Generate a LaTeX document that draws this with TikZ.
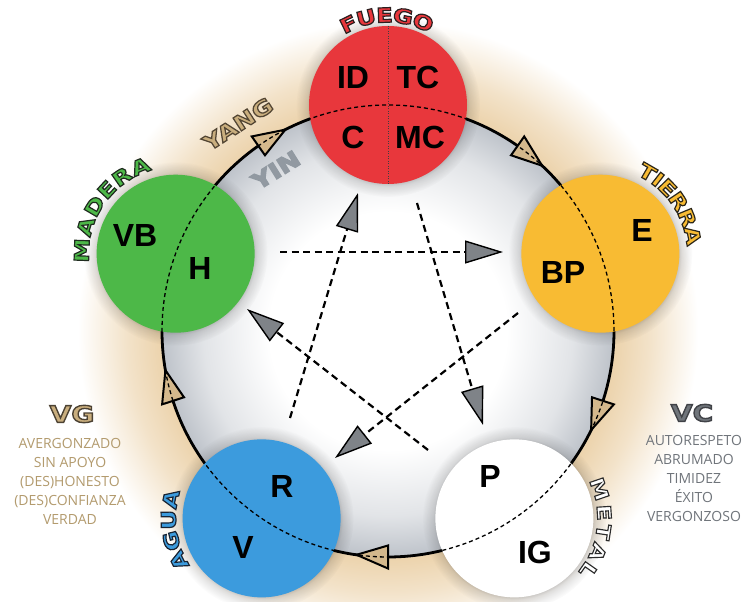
\documentclass[tikz,border=0pt]{standalone}
\usepackage{fontspec}
\setmainfont{Liberation Sans}
\newfontfamily\outfont{DejaVu Sans Bold}[FakeStretch=1.22, FakeBold=6]
\newfontfamily\listfont{Open Sans}
\usetikzlibrary{calc,arrows.meta,fadings}

\definecolor{firered}{HTML}{E8373C}
\definecolor{woodgreen}{HTML}{4DB848}
\definecolor{earthyellow}{HTML}{F8BB33}
\definecolor{waterblue}{HTML}{3C9BDD}
\definecolor{innergray}{HTML}{BEC3CA}
\definecolor{outertan}{HTML}{ECD3AC}
\definecolor{ringtan}{HTML}{D4B88C}
\definecolor{stargray}{HTML}{7F8388}
\definecolor{vgtan}{HTML}{B39B6E}
\definecolor{vggold}{HTML}{C9AE7E}
\definecolor{vcgray}{HTML}{70757B}
\definecolor{yingray}{HTML}{9299A1}

\pgfdeclareradialshading{ringglow}{\pgfpoint{0bp}{0bp}}{color(0bp)=(white); color(9bp)=(white); color(14bp)=(innergray!45!white); color(17.1bp)=(innergray); color(17.16bp)=(outertan); color(19.8bp)=(outertan!65!white); color(23.5bp)=(white); color(25bp)=(white); color(50bp)=(white)}
\pgfdeclareradialshading{haloshade}{\pgfpointorigin}{color(0bp)=(white); color(21bp)=(white); color(22bp)=(white!55!black); color(25bp)=(black); color(50bp)=(black)}
\pgfdeclarefading{halo}{\pgfuseshading{haloshade}}

% outlined text: fill colour #2, stroke (outline) rgb #1, via the fake-bold stroke
\newcommand\myolt[3]{\textcolor{#2}{\special{pdf:literal direct #1 RG}#3}}

\tikzset{
  elem/.style={circle, minimum size=158pt, inner sep=0pt},
  ltr/.style={font=\fontsize{32}{34}\selectfont\bfseries, text=black, inner sep=0pt},
  curvlbl/.style={inner sep=0pt, font=\outfont\fontsize{#1}{#1}\selectfont},
  starline/.style={line width=2.2pt, dash pattern=on 7pt off 4.5pt, -{Triangle[length=38pt,width=23pt,fill=stargray,line width=1.4pt]}},
  ringarrow/.style={fill=ringtan, draw=black, line width=2pt, line join=miter},
  listtxt/.style={font=\listfont\fontsize{14}{19}\selectfont, align=center, anchor=north, inner sep=0pt},
}

\begin{document}
\begin{tikzpicture}[x=1pt,y=1pt]
\useasboundingbox (0,0) rectangle (747,602);
\fill[white] (0,0) rectangle (747,602);
\coordinate (C) at (388,271);
\begin{scope}
  \clip (0,0) rectangle (747,602);
  \shade[shading=ringglow] (C) circle (330pt);
\end{scope}

% ring
\draw[line width=2.8pt] (C) circle (226pt);

% element positions
\coordinate (pfire) at ($(C)+(90:226pt)$);
\coordinate (pearth) at ($(C)+(20:226pt)$);
\coordinate (pmetal) at ($(C)+(-56:226pt)$);
\coordinate (pwater) at ($(C)+(236:226pt)$);
\coordinate (pwood) at ($(C)+(160:226pt)$);

% halos
\foreach \p in {pfire,pearth,pmetal,pwater,pwood}
  \fill[black, opacity=0.22, path fading=halo] (\p) circle (92pt);

% ring arrows
\foreach \m in {55,-18,-90,198,125}
  \filldraw[ringarrow] ($(C)+(\m:237.5pt)$) -- ($(C)+(\m-8:226pt)$) -- ($(C)+(\m:214.5pt)$) -- cycle;

% circles
\node[elem, fill=firered] (fire) at (pfire) {};
\node[elem, fill=earthyellow] (earth) at (pearth) {};
\node[elem, fill=white] (metal) at (pmetal) {};
\node[elem, fill=waterblue] (water) at (pwater) {};
\node[elem, fill=woodgreen] (wood) at (pwood) {};

% dashed ring inside circles
\draw[line width=1.3pt, dash pattern=on 4pt off 3pt] (C) circle (226pt);
\draw[line width=.8pt, dash pattern=on 1pt off 1.5pt, black!75] (fire.north) -- (fire.south);

% letters in circles
\node[ltr] (id) at ($(fire.center)+(-35,28)$) {ID};
\node[ltr] (tc) at ($(fire.center)+(30,28)$) {TC};
\node[ltr] (c) at ($(fire.center)+(-35,-32)$) {C};
\node[ltr] (mc) at ($(fire.center)+(32,-32)$) {MC};
\node[ltr] (vb) at ($(wood.center)+(-40.6,18.7)$) {VB};
\node[ltr] (h) at ($(wood.center)+(24.4,-14.3)$) {H};
\node[ltr] (e) at ($(earth.center)+(41.6,23.7)$) {E};
\node[ltr] (bp) at ($(earth.center)+(-37.4,-18.3)$) {BP};
\node[ltr] (r) at ($(water.center)+(20.4,31.4)$) {R};
\node[ltr] (v) at ($(water.center)+(-18.6,-29.6)$) {V};
\node[ltr] (p) at ($(metal.center)+(-24.4,41.4)$) {P};
\node[ltr] (ig) at ($(metal.center)+(20.6,-34.6)$) {IG};

% curved element names
\foreach \a/\l in {116/F,104.1/U,92.2/E,80.3/G,67/O}
  \node[curvlbl=20, rotate=\a-90] at ($(fire.center)+(\a:90pt)$) {\myolt{0.17 0.12 0.12}{firered}{\l}};
\foreach \a/\l in {178/M,163.2/A,149.7/D,137.1/E,124.9/R,112/A}
  \node[curvlbl=20, rotate=\a-90] at ($(wood.center)+(\a:94pt)$) {\myolt{0.12 0.17 0.12}{woodgreen}{\l}};
\foreach \a/\l in {60/T,52.2/I,44.5/E,33.8/R,22.4/R,11/A}
  \node[curvlbl=20, rotate=\a-90] at ($(earth.center)+(\a:94pt)$) {\myolt{0.17 0.15 0.1}{earthyellow}{\l}};
\foreach \a/\l in {207/A,194.1/G,180.9/U,168/A}
  \node[curvlbl=20, rotate=\a-90] at ($(water.center)+(\a:93pt)$) {\myolt{0.1 0.14 0.2}{waterblue}{\l}};
\foreach \a/\l in {19/M,3.7/E,-8.8/T,-22.1/A,-35/L}
  \node[curvlbl=19, rotate=\a-90] at ($(metal.center)+(\a:90pt)$) {\myolt{0.17 0.17 0.17}{white}{\l}};

% yin yang
\node[curvlbl=21, rotate=33] (yang) at (238,478) {\myolt{0.32 0.27 0.2}{vggold}{YANG}};
\node[curvlbl=22, rotate=32] (yin) at (276,432) {\myolt{0.57 0.6 0.63}{yingray}{YIN}};

% star (control cycle)
\coordinate (s1) at (280,350); \coordinate (t1) at (503,350);
\coordinate (s2) at (417,399); \coordinate (t2) at (483,177);
\coordinate (s3) at (518,289); \coordinate (t3) at (335,144);
\coordinate (s4) at (428,152); \coordinate (t4) at (247,293);
\coordinate (s5) at (290,184); \coordinate (t5) at (358,409);
\draw[starline] (s1) -- (t1);
\draw[starline] (s2) -- (t2);
\draw[starline] (s3) -- (t3);
\draw[starline] (s4) -- (t4);
\draw[starline] (s5) -- (t5);

% side texts
\node[curvlbl=23] (vg) at (72,188) {\myolt{0.3 0.26 0.2}{vggold}{VG}};
\node[listtxt, text=vgtan] (vglist) at (70,164) {AVERGONZADO\\SIN APOYO\\(DES)HONESTO\\(DES)CONFIANZA\\VERDAD};
\node[curvlbl=23] (vc) at (692,189) {\myolt{0.25 0.26 0.28}{vcgray}{VC}};
\node[listtxt, text=vcgray] (vclist) at (694,167) {AUTORESPETO\\ABRUMADO\\TIMIDEZ\\ÉXITO\\VERGONZOSO};
\end{tikzpicture}
\end{document}
